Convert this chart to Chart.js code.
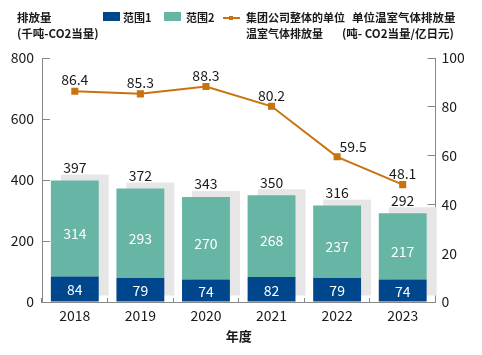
<!DOCTYPE html>
<html><head><meta charset="utf-8">
<script src="https://cdn.jsdelivr.net/npm/chart.js@4"></script>
<style>html,body{margin:0;padding:0;background:#fff;} #wrap{width:482px;height:355px;position:relative;}</style>
</head><body><div id="wrap"><canvas id="c" width="482" height="355"></canvas></div>
<script>
// ---- data ----
const years = ['2018', '2019', '2020', '2021', '2022', '2023'];
const scope1 = [84, 79, 74, 82, 79, 74];
const scope2 = [314, 293, 270, 268, 237, 217];
const totals = [397, 372, 343, 350, 316, 292];
const intensity = [86.4, 85.3, 88.3, 80.2, 59.5, 48.1];
const seriesNames = ['范围1', '范围2', ['集团公司整体的单位', '温室气体排放量']];
const leftTitle = ['排放量', '(千吨-CO2当量)'];
const rightTitle = ['单位温室气体排放量', '(吨- CO2当量/亿日元)'];
const xTitle = '年度';

// ---- styles ----
const FONT = '"Noto Sans CJK SC", "Noto Sans", sans-serif';
const C_BLUE = '#00468c';
const C_TEAL = '#66b5a5';
const C_ORANGE = '#c9730f';
const C_SHADOW = '#e6e6e6';
const C_AXIS = '#888888';
const C_TEXT = '#1a1a1a';

const shadowPlugin = {
  id: 'shadow',
  beforeDatasetsDraw(chart) {
    const m0 = chart.getDatasetMeta(0), m1 = chart.getDatasetMeta(1);
    const ctx = chart.ctx;
    ctx.save();
    ctx.fillStyle = C_SHADOW;
    m1.data.forEach((el, i) => {
      const p = el.getProps(['x', 'y', 'width'], true);
      const base = m0.data[i].getProps(['base'], true).base;
      ctx.fillRect(p.x - p.width / 2 + 10, p.y - 6, p.width, base - p.y);
    });
    ctx.restore();
  }
};

const labelPlugin = {
  id: 'valueLabels',
  afterDatasetsDraw(chart, args, opts) {
    const ctx = chart.ctx;
    ctx.save();
    ctx.textAlign = 'center';
    ctx.textBaseline = 'middle';
    ctx.font = '14px ' + FONT;
    const m0 = chart.getDatasetMeta(0), m1 = chart.getDatasetMeta(1), m2 = chart.getDatasetMeta(2);
    m0.data.forEach((el, i) => {
      const p = el.getProps(['x', 'y', 'base'], true);
      ctx.fillStyle = '#ffffff';
      ctx.fillText(String(scope1[i]), p.x, (p.y + p.base) / 2 + 1);
    });
    m1.data.forEach((el, i) => {
      const p = el.getProps(['x', 'y', 'base'], true);
      ctx.fillStyle = '#ffffff';
      ctx.fillText(String(scope2[i]), p.x, (p.y + p.base) / 2 + 5);
      ctx.fillStyle = C_TEXT;
      ctx.fillText(String(totals[i]), p.x, p.y - 13);
    });
    m2.data.forEach((el, i) => {
      const p = el.getProps(['x', 'y'], true);
      const dx = (opts.lineShift && opts.lineShift[i]) || 0;
      ctx.fillStyle = C_TEXT;
      ctx.fillText(intensity[i].toFixed(1), p.x + dx, p.y - (dx ? 10 : 11));
    });
    ctx.restore();
  }
};

const headerPlugin = {
  id: 'header',
  afterDraw(chart) {
    const ctx = chart.ctx;
    ctx.save();
    ctx.font = 'bold 11.5px ' + FONT;
    ctx.fillStyle = C_TEXT;
    ctx.textBaseline = 'middle';
    ctx.textAlign = 'left';
    ctx.fillText(leftTitle[0], 17, 17.5);
    ctx.fillText(leftTitle[1], 17, 34);
    ctx.fillText(rightTitle[0], 352, 17.5);
    ctx.fillText(rightTitle[1], 342, 34);
    // legend
    ctx.font = 'bold 11px ' + FONT;
    ctx.fillStyle = C_BLUE;
    ctx.fillRect(103, 12, 17, 9);
    ctx.fillStyle = C_TEAL;
    ctx.fillRect(164, 12, 17, 9);
    ctx.strokeStyle = C_ORANGE;
    ctx.lineWidth = 2;
    ctx.beginPath(); ctx.moveTo(223, 18); ctx.lineTo(240, 18); ctx.stroke();
    ctx.fillStyle = C_ORANGE;
    ctx.fillRect(229, 16, 4, 4);
    ctx.fillStyle = C_TEXT;
    ctx.fillText(seriesNames[0], 123, 17.5);
    ctx.fillText(seriesNames[1], 186, 17.5);
    ctx.fillText(seriesNames[2][0], 246, 17.5);
    ctx.fillText(seriesNames[2][1], 246, 34);
    ctx.restore();
  }
};

new Chart(document.getElementById('c'), {
  data: {
    labels: years,
    datasets: [
      { type: 'bar', label: seriesNames[0], data: scope1, backgroundColor: C_BLUE, stack: 's', yAxisID: 'y', order: 1,
        categoryPercentage: 1, barPercentage: 0.73 },
      { type: 'bar', label: seriesNames[1], data: scope2, backgroundColor: C_TEAL, stack: 's', yAxisID: 'y', order: 1,
        categoryPercentage: 1, barPercentage: 0.73 },
      { type: 'line', label: seriesNames[2].join(''), data: intensity, yAxisID: 'y1', order: 0,
        borderColor: C_ORANGE, backgroundColor: C_ORANGE, borderWidth: 2, pointStyle: 'rect', pointRadius: 3.6,
        fill: false, tension: 0 }
    ]
  },
  options: {
    responsive: false,
    animation: false,
    devicePixelRatio: 1,
    layout: { padding: { top: 58, left: 0, right: 0, bottom: 0 } },
    plugins: {
      legend: { display: false },
      tooltip: { enabled: false },
      valueLabels: { lineShift: { 4: 16 } }
    },
    scales: {
      x: {
        stacked: true,
        grid: { display: true, drawOnChartArea: false, offset: true, tickLength: -4, color: C_AXIS },
        border: { display: true, color: C_AXIS, width: 1 },
        ticks: { color: C_TEXT, font: { family: FONT, size: 14 }, padding: 9 },
        title: { display: true, text: xTitle, color: C_TEXT, font: { family: FONT, size: 13, weight: 'bold' }, padding: { top: 0, bottom: 11 } },
        afterFit(s) { s.height = 53; }
      },
      y: {
        position: 'left', stacked: true, min: 0, max: 800,
        grid: { display: true, drawOnChartArea: false, tickLength: -8, color: C_AXIS },
        border: { display: true, color: C_AXIS, width: 1 },
        ticks: { stepSize: 200, color: C_TEXT, font: { family: FONT, size: 14 }, padding: 16 },
        afterFit(s) { s.width = 42; }
      },
      y1: {
        position: 'right', min: 0, max: 100,
        grid: { display: true, drawOnChartArea: false, tickLength: -8, color: C_AXIS },
        border: { display: true, color: C_AXIS, width: 1 },
        ticks: { stepSize: 20, color: C_TEXT, font: { family: FONT, size: 14 }, padding: 14 },
        afterFit(s) { s.width = 46.5; }
      }
    }
  },
  plugins: [shadowPlugin, labelPlugin, headerPlugin]
});
</script>
</body></html>
